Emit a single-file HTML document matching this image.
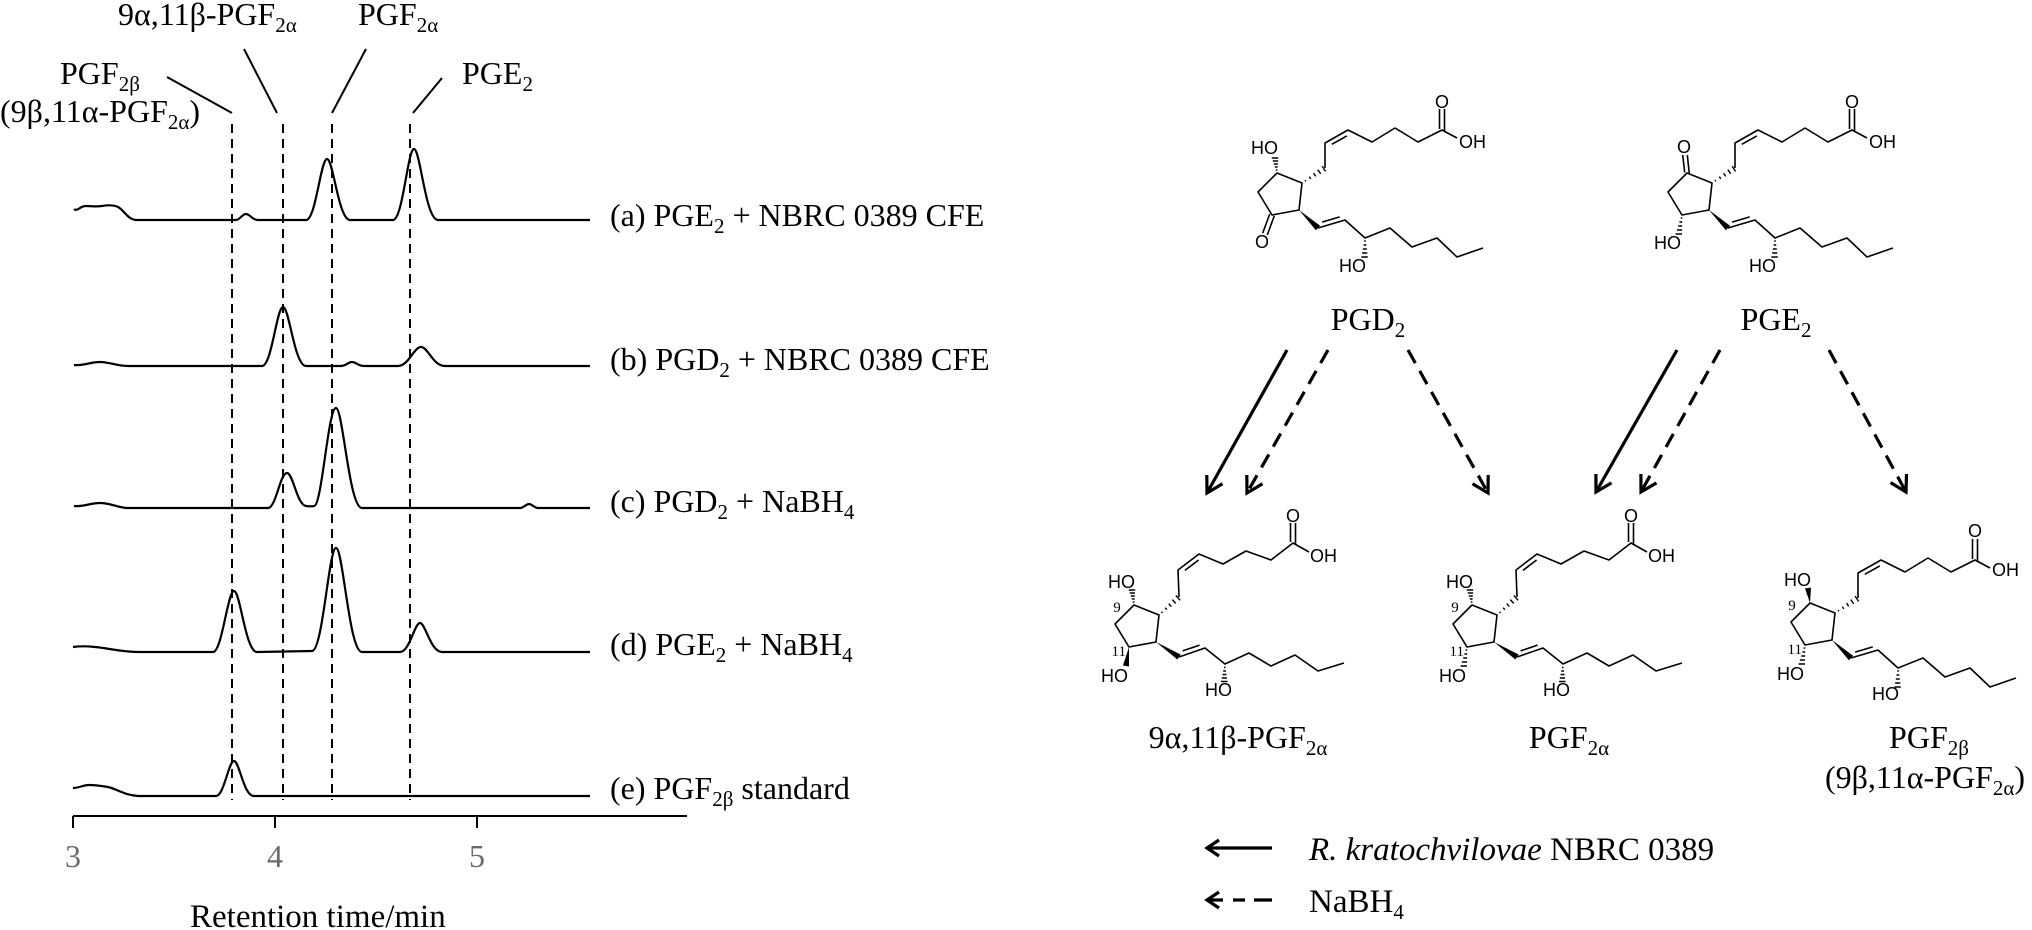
<!DOCTYPE html>
<html><head><meta charset="utf-8">
<style>html,body{margin:0;padding:0;background:#fff;}svg{display:block}</style>
</head><body>
<svg width="2032" height="930" viewBox="0 0 2032 930" xmlns="http://www.w3.org/2000/svg" xmlns:xlink="http://www.w3.org/1999/xlink" font-family="'Liberation Serif', serif">
<rect width="2032" height="930" fill="#fff"/>
<defs>
<g id="rg" fill="none" stroke="#000" stroke-width="1.6" stroke-linejoin="round">
<path d="M0,0 L25,10 L22,37 L-5,42 L-19,19 Z"/>
</g>
<g id="al" fill="none" stroke="#000" stroke-width="1.6" stroke-linejoin="round">
<path d="M48,-5 L48,-30 L71,-43 L95,-31 L118,-45 L141,-31 L165,-43 L180,-35"/>
<path d="M54.8,-28.7 L69.8,-37.1"/>
<path d="M162.5,-44 L162.5,-64 M167.5,-42 L167.5,-64"/>
<path d="M28,7.1 L28.9,8.4 M32.3,3.6 L33.8,5.9 M36.6,0.1 L38.7,3.4 M40.8,-3.4 L43.7,0.9 M45.1,-6.9 L48.6,-1.6" stroke-width="1.4"/>
</g>
<g id="om" fill="none" stroke="#000" stroke-width="1.6" stroke-linejoin="round">
<polygon points="22,37 38.9,57.2 43.1,52.8" fill="#000" stroke="none"/>
<path d="M41,55 L68,47 L88,65 L113,55 L135,74 L160,65 L180,84 L206,75"/>
<path d="M45.1,49.1 L62.7,43.9"/>
<path d="M87.2,68 L88.8,68 M86.5,72 L89.3,72 M85.8,76 L89.8,76 M85.1,80 L90.3,80 M84.4,84 L90.8,84" stroke-width="1.4"/>
</g>
<g id="al2" fill="none" stroke="#000" stroke-width="1.6" stroke-linejoin="round">
<path d="M45,-8 L44,-35 L65,-51 L89,-41 L112,-54 L137,-45 L159,-62 L175,-53"/>
<path d="M50.9,-34.6 L64.6,-45"/>
<path d="M156.5,-63 L156.5,-82 M161.5,-61 L161.5,-82"/>
<path d="M27.5,6.7 L28.5,7.9 M31.1,2.7 L32.9,4.7 M34.7,-1.4 L37.3,1.6 M38.3,-5.4 L41.7,-1.6 M41.9,-9.5 L46.1,-4.7" stroke-width="1.4"/>
</g>
<g id="om2" fill="none" stroke="#000" stroke-width="1.6" stroke-linejoin="round">
<polygon points="22,37 43.4,54.5 46.6,49.5" fill="#000" stroke="none"/>
<path d="M45,52 L71,43 L91,59 L115,48 L137,61 L161,50 L184,66 L210,58"/>
<path d="M48.7,45.9 L65.6,40.1"/>
<path d="M90,62.5 L91.6,62.5 M89.2,66 L92,66 M88.5,69.5 L92.5,69.5 M87.8,73 L93,73 M87.1,76.5 L93.5,76.5" stroke-width="1.4"/>
</g>
<path id="h9" d="M-1.2,-3 L0.4,-3 M-2.2,-6 L0.6,-6 M-3.2,-9 L0.8,-9 M-4.2,-12 L1,-12 M-5.2,-15 L1.2,-15" fill="none" stroke="#000" stroke-width="1.4"/>
<path id="h11" d="M-6.3,45 L-4.7,45 M-7.6,49 L-4.8,49 M-8.8,53 L-4.8,53 M-10.1,57 L-4.9,57 M-11.4,61 L-5,61" fill="none" stroke="#000" stroke-width="1.4"/>
</defs>

<!-- ============ LEFT CHROMATOGRAM ============ -->
<g font-size="32" fill="#000" style="white-space:pre">
<text x="118" y="25">9α,11β-PGF<tspan font-size="21" dy="7">2α</tspan></text>
<text x="358" y="25">PGF<tspan font-size="21" dy="7">2α</tspan></text>
<text x="60" y="84">PGF<tspan font-size="21" dy="7">2β</tspan></text>
<text x="462" y="84">PGE<tspan font-size="21" dy="7">2</tspan></text>
<text x="0" y="122">(9β,11α-PGF<tspan font-size="21" dy="7">2α</tspan><tspan dy="-7">)</tspan></text>

<text x="610" y="226">(a) PGE<tspan font-size="21" dy="7">2</tspan><tspan dy="-7"> + NBRC 0389 CFE</tspan></text>
<text x="610" y="370">(b) PGD<tspan font-size="21" dy="7">2</tspan><tspan dy="-7"> + NBRC 0389 CFE</tspan></text>
<text x="610" y="512">(c) PGD<tspan font-size="21" dy="7">2</tspan><tspan dy="-7"> + NaBH</tspan><tspan font-size="21" dy="7">4</tspan></text>
<text x="610" y="655">(d) PGE<tspan font-size="21" dy="7">2</tspan><tspan dy="-7"> + NaBH</tspan><tspan font-size="21" dy="7">4</tspan></text>
<text x="610" y="799">(e) PGF<tspan font-size="21" dy="7">2β</tspan><tspan dy="-7"> standard</tspan></text>

<text x="73" y="867" text-anchor="middle" fill="#6b6b6b">3</text>
<text x="275" y="867" text-anchor="middle" fill="#6b6b6b">4</text>
<text x="477" y="867" text-anchor="middle" fill="#6b6b6b">5</text>
<text x="190" y="927" font-size="33">Retention time/min</text>
</g>

<g fill="none" stroke="#000" stroke-width="2">
<path d="M167,77 L232,113 M244,49 L277,113 M366,49 L332,113 M442,78 L413,113"/>
<path d="M232,124 L232,800 M283,124 L283,800 M332,124 L332,800 M410,124 L410,800" stroke-dasharray="9 6"/>
<path d="M73,816 L687,816 M73,816 L73,828 M275,816 L275,828 M477,816 L477,828"/>
</g>

<g fill="none" stroke="#000" stroke-width="2.2" stroke-linejoin="round">
<path d="M74,209 C77,212 80,206 86,206 C92,206 96,207 102,206 C108,205 114,205 118,207 C124,210 127,219 136,220 L236,220 C240,220 242,214 246,214 C250,214 252,220 258,220 L306,220 C315.8,220 320.7,159 327,159 C333.3,159 338.5,220 350,220 L393,220 C402.8,220 407.7,149 414,149 C420.3,149 425.5,220 438,220 L590,220"/>
<path d="M74,365 C84,366 90,362 100,362 C110,362 116,366 128,366 L262,366 C271.8,366 276.7,307 283,307 C289.3,307 294.5,366 306,366 L341,366 C346,366 348,362 352,362 C356,362 358,366 364,366 L398,366 C408.5,366 414,347 421,347 C428,347 433,366 445,366 L590,366"/>
<path d="M74,506 C84,507 90,503 100,503 C110,503 116,507 126,508 L268,508 C276,508 280,473 287,473 C293,473 297,505 306,506 C310,506.5 312,506.5 314,506 C322,506 328,408 336,408 C343,408 349,508 362,508 L520,508 C524,508 526,504 529,504 C532,504 534,508 538,508 L590,508"/>
<path d="M73,647 C80,646 86,646 95,647 C108,648 120,652 140,652 L213,652 C222,652 227.7,591 234,591 C240.3,591 245.5,652 257,652 L312,651 C322.8,651 328.8,548 336,548 C343.2,548 349,652 362,652 L400,652 C409.6,652 414.5,623 420,623 C425.5,623 430.5,652 442,652 L590,652"/>
<path d="M73,788 C79,788 83,785 89,785 C96,785 102,786 108,787 C117,789 124,795 138,796 L216,796 C224,796 228.6,761 234,761 C239.4,761 243.5,796 254,796 L590,796"/>
</g>

<!-- ============ STRUCTURES ============ -->
<g font-family="'Liberation Sans', sans-serif" font-size="18" fill="#000">

<!-- PGD2 -->
<g transform="translate(1277,173)">
<use xlink:href="#rg" href="#rg"/>
<use xlink:href="#al" href="#al"/>
<use xlink:href="#om" href="#om"/>
<use xlink:href="#h9" href="#h9"/>
<path d="M-7.3,41.1 L-14.3,60.1 M-2.7,42.9 L-9.7,61.9" stroke="#000" stroke-width="1.6" fill="none"/>
<text x="1" y="-19" text-anchor="end">HO</text>
<text x="-15" y="75" text-anchor="middle">O</text>
<text x="165" y="-65" text-anchor="middle">O</text>
<text x="182" y="-25">OH</text>
<text x="89" y="99" text-anchor="end">HO</text>
</g>

<!-- PGE2 -->
<g transform="translate(1687,173)">
<use xlink:href="#rg" href="#rg"/>
<use xlink:href="#al" href="#al"/>
<use xlink:href="#om" href="#om"/>
<use xlink:href="#h11" href="#h11"/>
<path d="M-2.3,-0.5 L-4.3,-18 M2.3,0.5 L0.3,-18" stroke="#000" stroke-width="1.6" fill="none"/>
<text x="-3" y="-20" text-anchor="middle">O</text>
<text x="-6" y="76" text-anchor="end">HO</text>
<text x="165" y="-65" text-anchor="middle">O</text>
<text x="182" y="-25">OH</text>
<text x="89" y="99" text-anchor="end">HO</text>
</g>

<!-- Product 1: 9a,11b -->
<g transform="translate(1134,605)">
<use xlink:href="#rg" href="#rg"/>
<use xlink:href="#al2" href="#al2"/>
<use xlink:href="#om2" href="#om2"/>
<use xlink:href="#h9" href="#h9"/>
<polygon points="-5,42 -11,60.5 -5,61.5" fill="#000"/>
<text x="1" y="-17" text-anchor="end">HO</text>
<text x="-6" y="77" text-anchor="end">HO</text>
<text x="159" y="-83" text-anchor="middle">O</text>
<text x="176" y="-43">OH</text>
<text x="98" y="91" text-anchor="end">HO</text>
<text x="-17" y="7" text-anchor="middle" font-family="'Liberation Serif', serif" font-size="15">9</text>
<text x="-8" y="51" text-anchor="end" font-family="'Liberation Serif', serif" font-size="15">11</text>
</g>

<!-- Product 2: PGF2a -->
<g transform="translate(1472,605)">
<use xlink:href="#rg" href="#rg"/>
<use xlink:href="#al2" href="#al2"/>
<use xlink:href="#om2" href="#om2"/>
<use xlink:href="#h9" href="#h9"/>
<use xlink:href="#h11" href="#h11"/>
<text x="1" y="-17" text-anchor="end">HO</text>
<text x="-6" y="77" text-anchor="end">HO</text>
<text x="159" y="-83" text-anchor="middle">O</text>
<text x="176" y="-43">OH</text>
<text x="98" y="91" text-anchor="end">HO</text>
<text x="-17" y="7" text-anchor="middle" font-family="'Liberation Serif', serif" font-size="15">9</text>
<text x="-8" y="51" text-anchor="end" font-family="'Liberation Serif', serif" font-size="15">11</text>
</g>

<!-- Product 3: PGF2b -->
<g transform="translate(1810,603)">
<use xlink:href="#rg" href="#rg"/>
<use xlink:href="#al" href="#al"/>
<use xlink:href="#om" href="#om"/>
<use xlink:href="#h11" href="#h11"/>
<polygon points="0,0 -5,-14.6 1,-15.4" fill="#000"/>
<text x="1" y="-17" text-anchor="end">HO</text>
<text x="-6" y="77" text-anchor="end">HO</text>
<text x="165" y="-66" text-anchor="middle">O</text>
<text x="182" y="-27">OH</text>
<text x="89" y="97" text-anchor="end">HO</text>
<text x="-18" y="7" text-anchor="middle" font-family="'Liberation Serif', serif" font-size="15">9</text>
<text x="-8" y="51" text-anchor="end" font-family="'Liberation Serif', serif" font-size="15">11</text>
</g>
</g>

<!-- labels right -->
<g font-size="32" fill="#000" style="white-space:pre">
<text x="1368" y="330" text-anchor="middle">PGD<tspan font-size="21" dy="7">2</tspan></text>
<text x="1776" y="330" text-anchor="middle">PGE<tspan font-size="21" dy="7">2</tspan></text>
<text x="1238" y="748" text-anchor="middle">9α,11β-PGF<tspan font-size="21" dy="7">2α</tspan></text>
<text x="1569" y="748" text-anchor="middle">PGF<tspan font-size="21" dy="7">2α</tspan></text>
<text x="1929" y="748" text-anchor="middle">PGF<tspan font-size="21" dy="7">2β</tspan></text>
<text x="1925" y="788" text-anchor="middle">(9β,11α-PGF<tspan font-size="21" dy="7">2α</tspan><tspan dy="-7">)</tspan></text>
<text x="1309" y="860" font-size="33"><tspan font-style="italic">R. kratochvilovae</tspan> NBRC 0389</text>
<text x="1309" y="912" font-size="33">NaBH<tspan font-size="21" dy="7">4</tspan></text>
</g>

<!-- arrows -->
<g fill="none" stroke="#000" stroke-width="3.2" stroke-linejoin="miter">
<path d="M1287,350 L1207,493"/>
<path d="M1206.8,475 L1207,493 L1222.5,483.8"/>
<path d="M1328,350 L1247,493" stroke-dasharray="15 9"/>
<path d="M1246.8,475 L1247,493 L1262.5,483.8"/>
<path d="M1408,350 L1488,493" stroke-dasharray="15 9"/>
<path d="M1472.5,483.8 L1488,493 L1488.2,475"/>

<path d="M1677,350 L1596,492"/>
<path d="M1595.9,474 L1596,492 L1611.5,482.9"/>
<path d="M1720,350 L1641,492" stroke-dasharray="15 9"/>
<path d="M1640.9,474 L1641,492 L1656.5,482.9"/>
<path d="M1829,350 L1906,492" stroke-dasharray="15 9"/>
<path d="M1890.6,482.6 L1906,492 L1906.5,474"/>

<path d="M1207,848 L1272,848"/>
<path d="M1219,840 L1207,848 L1219,856"/>
<path d="M1207,900 L1223,900 M1233,900 L1245,900 M1254,900 L1272,900"/>
<path d="M1219,892 L1207,900 L1219,908"/>
</g>
</svg>
</body></html>
